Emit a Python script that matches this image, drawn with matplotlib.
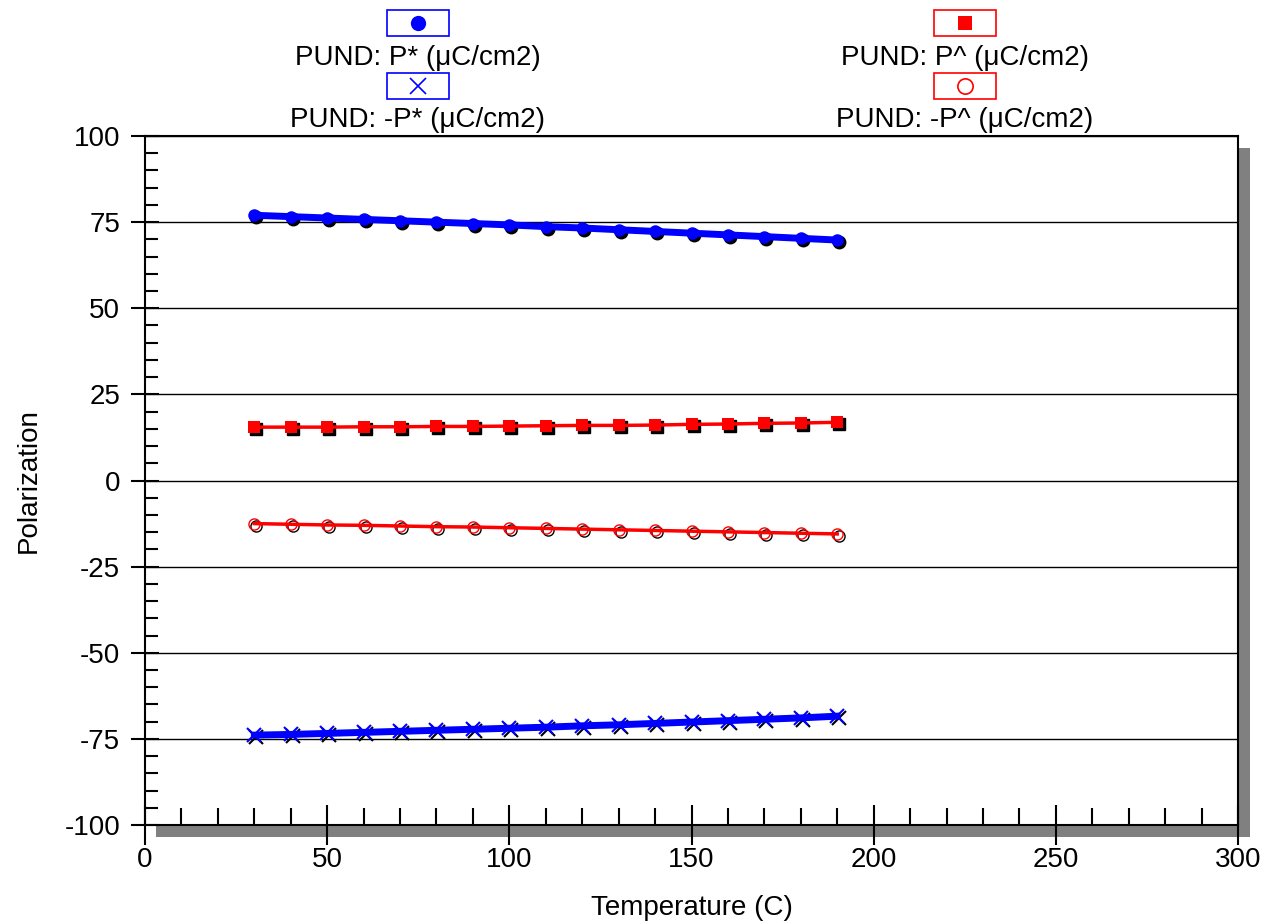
import matplotlib
matplotlib.use("Agg")
import matplotlib.pyplot as plt
from matplotlib.lines import Line2D
from matplotlib.patches import Rectangle
from matplotlib.transforms import offset_copy
from matplotlib.ticker import MultipleLocator

plt.rcParams["font.family"] = ["Liberation Sans", "DejaVu Sans"]
plt.rcParams["axes.unicode_minus"] = False

temperature = [30, 40, 50, 60, 70, 80, 90, 100, 110, 120, 130, 140, 150, 160, 170, 180, 190]
p_star = [77.0, 76.6, 76.2, 75.8, 75.4, 75.0, 74.6, 74.2, 73.7, 73.3, 72.8, 72.3, 71.8, 71.3, 70.8, 70.3, 69.8]
p_hat = [15.5, 15.5, 15.5, 15.6, 15.6, 15.7, 15.7, 15.8, 15.9, 16.0, 16.0, 16.1, 16.3, 16.4, 16.6, 16.7, 16.9]
neg_p_hat = [-12.5, -12.7, -12.9, -13.0, -13.2, -13.4, -13.5, -13.7, -13.9, -14.1, -14.3, -14.5, -14.7, -14.9, -15.1, -15.3, -15.5]
neg_p_star = [-73.9, -73.7, -73.4, -73.1, -72.8, -72.5, -72.2, -71.9, -71.6, -71.2, -70.9, -70.5, -70.1, -69.7, -69.3, -68.9, -68.4]

# label, values, colour, marker, line width, marker size, legend marker size
series = [
    ("PUND: P* (\u03bcC/cm2)", p_star, "#0000ff", "o", 5.0, 9, 11),
    ("PUND: P^ (\u03bcC/cm2)", p_hat, "#ff0000", "s", 2.5, 8.5, 10.5),
    ("PUND: -P* (\u03bcC/cm2)", neg_p_star, "#0000ff", "x", 5.0, 10, 12),
    ("PUND: -P^ (\u03bcC/cm2)", neg_p_hat, "#ff0000", "o_open", 2.5, 8, 11),
]

FS = 20

fig = plt.figure(figsize=(12.68, 9.24), dpi=100)
ax = fig.add_axes([0.1144, 0.1071, 0.8619, 0.7457])
ax.set_zorder(2)

# drop shadow behind the plot area
shadow = Rectangle((156 / 1268, 1 - 837 / 924), (1250 - 156) / 1268, (837 - 148) / 924,
                   transform=fig.transFigure, facecolor="#808080", edgecolor="none", zorder=1)
fig.add_artist(shadow)

ax.set_xlim(0, 300)
ax.set_ylim(-100, 100)
ax.xaxis.set_major_locator(MultipleLocator(50))
ax.xaxis.set_minor_locator(MultipleLocator(10))
ax.yaxis.set_major_locator(MultipleLocator(25))
ax.yaxis.set_minor_locator(MultipleLocator(5))
ax.tick_params(axis="x", which="major", direction="inout", length=29.5, width=1.5,
               labelsize=FS, pad=1)
ax.tick_params(axis="x", which="minor", direction="in", length=12, width=1.5)
ax.tick_params(axis="y", which="major", direction="inout", length=20, width=1.5,
               labelsize=FS, pad=8)
ax.tick_params(axis="y", which="minor", direction="in", length=9.4, width=1.5)
for s in ax.spines.values():
    s.set_linewidth(1.5)
ax.grid(True, axis="y", which="major", color="black", linewidth=1.0)
ax.set_axisbelow(True)

ax.set_xlabel("Temperature (C)", fontsize=FS, labelpad=16)
ax.set_ylabel("Polarization", fontsize=FS, labelpad=16)

shadow_tr = offset_copy(ax.transData, fig=fig, x=2, y=-2, units="dots")
for label, vals, color, marker, lw, ms, lms in series:
    m = "o" if marker == "o_open" else marker
    if marker == "o_open":
        ax.plot(temperature, vals, linestyle="none", marker=m, markersize=ms,
                markerfacecolor="none", markeredgecolor="black", markeredgewidth=1.0,
                transform=shadow_tr, zorder=3)
        ax.plot(temperature, vals, color=color, linewidth=lw, marker=m, markersize=ms,
                markerfacecolor="none", markeredgecolor=color, markeredgewidth=1.0, zorder=4)
    elif marker == "x":
        ax.plot(temperature, vals, linestyle="none", marker=m, markersize=ms,
                color="black", markeredgewidth=1.5, transform=shadow_tr, zorder=3)
        ax.plot(temperature, vals, color=color, linewidth=lw, marker=m, markersize=ms,
                markeredgewidth=1.5, zorder=4)
    else:
        ax.plot(temperature, vals, linestyle="none", marker=m, markersize=ms,
                color="black", transform=shadow_tr, zorder=3)
        ax.plot(temperature, vals, color=color, linewidth=lw, marker=m, markersize=ms,
                markeredgewidth=0, zorder=4)

# legend drawn by hand at the top of the figure
legend_pos = [(418, 23, 58), (965, 23, 58), (418, 86, 120), (965, 86, 120)]
for (label, vals, color, marker, lw, ms, lms), (cx, by, ty) in zip(series, legend_pos):
    w, h = 62, 26
    fig.add_artist(Rectangle(((cx - w / 2) / 1268, 1 - (by + h / 2) / 924), w / 1268, h / 924,
                             transform=fig.transFigure, facecolor="white",
                             edgecolor=color, linewidth=1.2))
    mx, my = cx / 1268, 1 - by / 924
    if marker == "o_open":
        fig.add_artist(Line2D([mx], [my], marker="o", markersize=lms, markerfacecolor="none",
                              markeredgecolor=color, markeredgewidth=1.2, transform=fig.transFigure))
    elif marker == "x":
        fig.add_artist(Line2D([mx], [my], marker="x", markersize=lms, color=color,
                              markeredgewidth=1.2, transform=fig.transFigure))
    else:
        fig.add_artist(Line2D([mx], [my], marker=marker, markersize=lms, color=color,
                              markeredgewidth=0, transform=fig.transFigure))
    fig.text(cx / 1268, 1 - ty / 924, label, ha="center", va="center", fontsize=FS)

fig.savefig("out.png", dpi=100)
